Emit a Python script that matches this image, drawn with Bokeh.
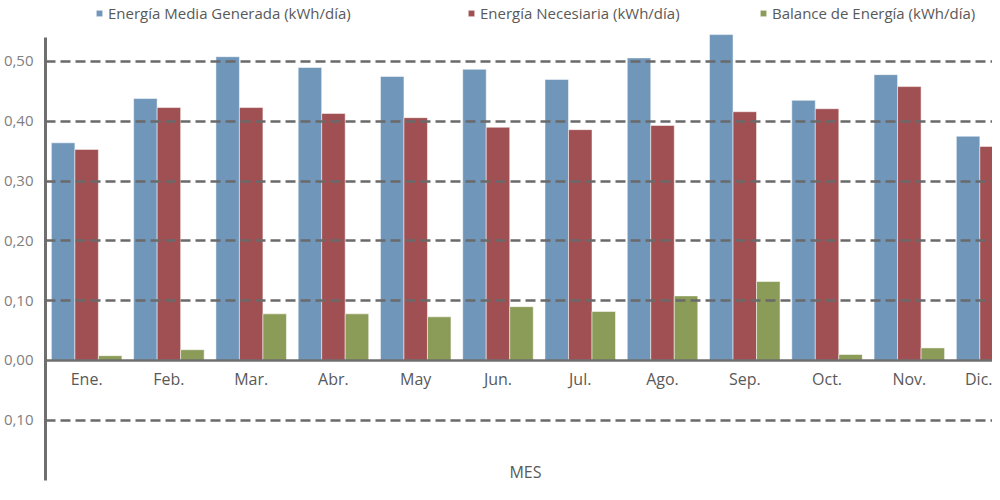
import numpy as np
from bokeh.plotting import figure
from bokeh.models import (Range1d, FixedTicker, CustomJSTickFormatter, Legend,
                          LegendItem, Label, ColumnDataSource)
from bokeh.transform import dodge
from bokeh.embed import file_html
from bokeh.resources import INLINE

months = ["Ene.", "Feb.", "Mar.", "Abr.", "May", "Jun.", "Jul.", "Ago.", "Sep.", "Oct.", "Nov.", "Dic."]
generada = [0.364, 0.438, 0.508, 0.490, 0.475, 0.487, 0.470, 0.506, 0.545, 0.435, 0.478, 0.375]
necesaria = [0.353, 0.423, 0.423, 0.413, 0.406, 0.390, 0.386, 0.393, 0.416, 0.421, 0.458, 0.358]
balance = [0.008, 0.018, 0.078, 0.078, 0.073, 0.090, 0.082, 0.108, 0.132, 0.010, 0.021, 0.017]
series_names = ["Energía Media Generada (kWh/día)", "Energía Necesiaria (kWh/día)", "Balance de Energía (kWh/día)"]
y_ticks = [-0.1, 0.0, 0.1, 0.2, 0.3, 0.4, 0.5]

FONT = "Open Sans"
TXT = "#595959"
colors = ["#7096BA", "#A05052", "#8B9B58"]

src = ColumnDataSource(dict(x=np.arange(len(months)), g=generada, n=necesaria, b=balance))

p = figure(width=992, height=484, x_range=Range1d(-0.5, 11.011), y_range=Range1d(-0.2074, 0.602),
           output_backend="svg", toolbar_location=None, min_border=0, min_border_left=43)
p.outline_line_color = None
p.background_fill_color = "white"
p.border_fill_color = "white"

bw = 0.2857
r1 = p.vbar(x=dodge('x', -bw), top='g', width=bw, source=src, fill_color=colors[0],
            line_color="white", line_alpha=0.5, line_width=1)
r2 = p.vbar(x=dodge('x', 0), top='n', width=bw, source=src, fill_color=colors[1],
            line_color="white", line_alpha=0.5, line_width=1)
r3 = p.vbar(x=dodge('x', bw), top='b', width=bw, source=src, fill_color=colors[2],
            line_color="white", line_alpha=0.5, line_width=1)

# x axis at zero
xa = p.xaxis[0]
xa.fixed_location = 0
xa.ticker = FixedTicker(ticks=list(range(len(months))))
xa.formatter = CustomJSTickFormatter(args=dict(months=months),
                                     code="return months[Math.round(tick)] || '';")
xa.axis_line_color = "#6f6f6f"
xa.axis_line_width = 2.5
xa.major_tick_line_color = None
xa.minor_tick_line_color = None
xa.major_tick_out = 0
xa.major_tick_in = 0
xa.major_label_standoff = 8
xa.major_label_text_font = FONT
xa.major_label_text_font_size = "16px"
xa.major_label_text_color = TXT

ya = p.yaxis[0]
ya.bounds = (-0.2, 0.54)
ya.ticker = FixedTicker(ticks=y_ticks)
ya.formatter = CustomJSTickFormatter(code="return Math.abs(tick).toFixed(2).replace('.', ',');")
ya.axis_line_color = "#6f6f6f"
ya.axis_line_width = 3
ya.major_tick_line_color = None
ya.minor_tick_line_color = None
ya.major_tick_out = 0
ya.major_tick_in = 0
ya.major_label_standoff = 12
ya.major_label_text_font = FONT
ya.major_label_text_font_size = "15px"
ya.major_label_text_color = "#808080"

p.xgrid.visible = False
p.ygrid.ticker = FixedTicker(ticks=[t for t in y_ticks if t != 0.0])
p.ygrid.grid_line_color = "#6a6a6a"
p.ygrid.grid_line_width = 2.5
p.ygrid.grid_line_dash = "10 5"
p.ygrid.level = "overlay"

for r, name, xloc in zip([r1, r2, r3], series_names, [50, 422, 714]):
    lg = Legend(items=[LegendItem(label=name, renderers=[r])], location=(xloc, 461),
                orientation="horizontal", padding=0, margin=0, spacing=0,
                glyph_width=8, glyph_height=8, label_standoff=5,
                label_text_font=FONT, label_text_font_size="15px", label_text_color=TXT,
                background_fill_alpha=0, border_line_color=None)
    p.add_layout(lg)

p.add_layout(Label(x=480, y=13, x_units="screen", y_units="screen", text="MES",
                   text_align="center", text_baseline="middle", text_font=FONT,
                   text_font_size="16px", text_color=TXT))

open("out.html", "w").write(file_html(p, INLINE))
